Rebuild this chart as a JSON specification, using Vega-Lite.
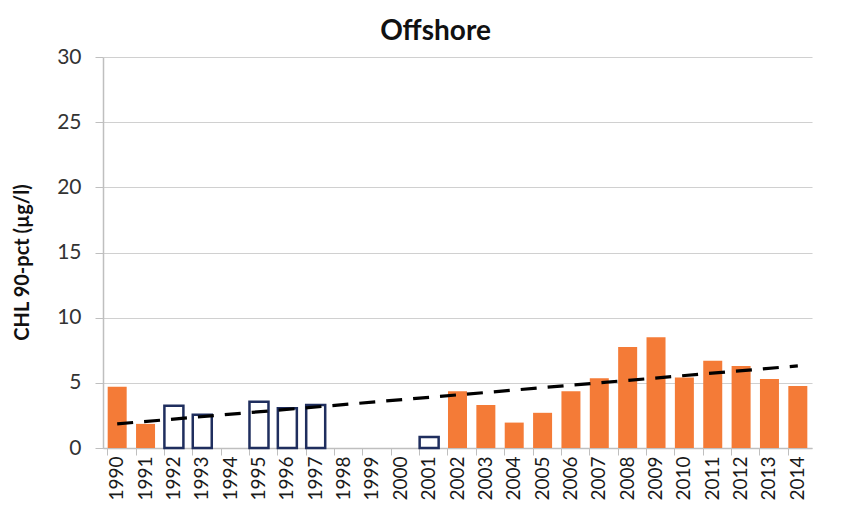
{
  "$schema": "https://vega.github.io/schema/vega-lite/v6.json",
  "width": 709,
  "height": 391,
  "autosize": "none",
  "padding": {"left": 103, "top": 57, "right": 29, "bottom": 70},
  "background": "white",
  "title": {"text": "Offshore", "font": "Lato", "fontSize": 28, "fontWeight": "bold", "color": "#111111", "offset": 0, "dx": -22},
  "config": {
    "view": {"stroke": null},
    "axis": {"labelFont": "Lato", "titleFont": "Lato"}
  },
  "datasets": {
    "bars": [
      {"year": "1990", "value": 4.7, "type": "filled"},
      {"year": "1991", "value": 1.85, "type": "filled"},
      {"year": "1992", "value": 3.25, "type": "open"},
      {"year": "1993", "value": 2.55, "type": "open"},
      {"year": "1995", "value": 3.55, "type": "open"},
      {"year": "1996", "value": 3.05, "type": "open"},
      {"year": "1997", "value": 3.3, "type": "open"},
      {"year": "2001", "value": 0.85, "type": "open"},
      {"year": "2002", "value": 4.35, "type": "filled"},
      {"year": "2003", "value": 3.3, "type": "filled"},
      {"year": "2004", "value": 1.95, "type": "filled"},
      {"year": "2005", "value": 2.7, "type": "filled"},
      {"year": "2006", "value": 4.35, "type": "filled"},
      {"year": "2007", "value": 5.35, "type": "filled"},
      {"year": "2008", "value": 7.75, "type": "filled"},
      {"year": "2009", "value": 8.5, "type": "filled"},
      {"year": "2010", "value": 5.4, "type": "filled"},
      {"year": "2011", "value": 6.7, "type": "filled"},
      {"year": "2012", "value": 6.3, "type": "filled"},
      {"year": "2013", "value": 5.3, "type": "filled"},
      {"year": "2014", "value": 4.75, "type": "filled"}
    ],
    "trend": [
      {"year": "1990", "value": 1.85},
      {"year": "2014", "value": 6.3}
    ]
  },
  "resolve": {"axis": {"x": "independent"}},
  "layer": [
    {
      "data": {"name": "bars"},
      "transform": [{"filter": "datum.type === 'filled'"}],
      "mark": {"type": "bar", "color": "#F47B37"},
      "encoding": {
        "x": {
          "field": "year", "type": "ordinal",
          "scale": {"domain": ["1990","1991","1992","1993","1994","1995","1996","1997","1998","1999","2000","2001","2002","2003","2004","2005","2006","2007","2008","2009","2010","2011","2012","2013","2014"], "paddingInner": 0.33, "paddingOuter": 0.165},
          "axis": {"title": null, "orient": "bottom", "labelAngle": -90, "labelFontSize": 19, "labelColor": "#1a1a1a", "labelPadding": 8, "ticks": false, "domain": true, "domainColor": "#bfbfbf", "domainWidth": 1.5}
        },
        "y": {
          "field": "value", "type": "quantitative",
          "scale": {"domain": [0, 30]},
          "axis": {"title": "CHL 90-pct (µg/l)", "titleFontSize": 20, "titleFontWeight": "bold", "titleColor": "#111111", "titleX": -81, "titleY": 205, "titleAngle": -90, "titleAlign": "center", "titleBaseline": "middle",
            "values": [0, 5, 10, 15, 20, 25, 30], "labelFontSize": 21, "labelColor": "#333333", "labelPadding": 14,
            "grid": true, "gridColor": "#d0d0d0", "gridWidth": 1.2, "domain": true, "domainColor": "#bfbfbf", "domainWidth": 1.5, "tickColor": "#bfbfbf", "tickSize": 8}
        }
      }
    },
    {
      "data": {"name": "bars"},
      "transform": [{"filter": "datum.type === 'open'"}],
      "mark": {"type": "bar", "fill": "white", "stroke": "#1F2E5E", "strokeWidth": 2.5},
      "encoding": {
        "x": {"field": "year", "type": "ordinal",
          "axis": {"title": null, "orient": "bottom", "labels": false, "ticks": true, "bandPosition": 0, "tickColor": "#bfbfbf", "tickSize": 7, "domain": false, "grid": false}},
        "y": {"field": "value", "type": "quantitative"}
      }
    },
    {
      "data": {"name": "trend"},
      "mark": {"type": "line", "color": "#000000", "strokeWidth": 3.2, "strokeDash": [16, 11]},
      "encoding": {
        "x": {"field": "year", "type": "ordinal", "axis": null},
        "y": {"field": "value", "type": "quantitative"}
      }
    }
  ]
}
